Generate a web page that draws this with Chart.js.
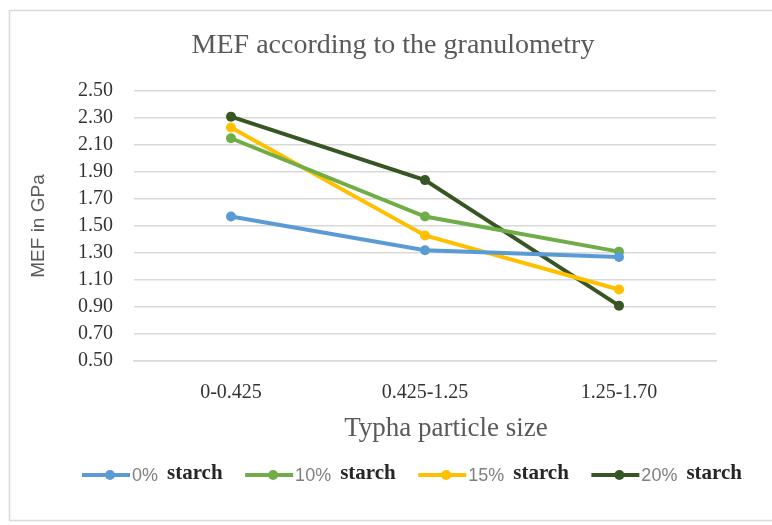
<!DOCTYPE html>
<html>
<head>
<meta charset="utf-8">
<script src="https://cdn.jsdelivr.net/npm/chart.js@4"></script>
<style>
  html, body { margin: 0; padding: 0; background: #fff; }
  #wrap { width: 772px; height: 525px; position: relative; }
</style>
</head>
<body>
<div id="wrap"><canvas id="mefChart"></canvas></div>
<script>
const CATEGORIES = ["0-0.425", "0.425-1.25", "1.25-1.70"];
const STARCH_0 = [1.57, 1.32, 1.27];
const STARCH_10 = [2.15, 1.57, 1.31];
const STARCH_15 = [2.23, 1.43, 1.03];
const STARCH_20 = [2.31, 1.84, 0.91];
const SERIES_NAMES = ["0%", "10%", "15%", "20%"];
const Y_TICKS = [0.5, 0.7, 0.9, 1.1, 1.3, 1.5, 1.7, 1.9, 2.1, 2.3, 2.5];
const CHART_TITLE = "MEF according to the granulometry";
const X_TITLE = "Typha particle size";
const Y_TITLE = "MEF in GPa";

const COLORS = ["#5b9bd5", "#70ad47", "#ffc000", "#375623"];
const SERIF = "'Liberation Serif', 'Times New Roman', serif";
const SANS = "'Liberation Sans', Arial, sans-serif";

function makeSet(name, values, color) {
  return {
    label: name + " starch",
    data: values,
    borderColor: color,
    backgroundColor: color,
    borderWidth: 4,
    pointRadius: 5,
    pointHoverRadius: 5,
    pointBorderWidth: 0,
    tension: 0
  };
}

// white background, light frame, chart title and x axis title
const decorPlugin = {
  id: "decor",
  beforeDraw(chart) {
    const ctx = chart.ctx;
    ctx.save();
    ctx.fillStyle = "#ffffff";
    ctx.fillRect(0, 0, chart.width, chart.height);
    ctx.strokeStyle = "#d9d9d9";
    ctx.lineWidth = 1.5;
    ctx.strokeRect(9.5, 10.5, chart.width + 20, 510);
    ctx.restore();
  },
  afterDraw(chart) {
    const ctx = chart.ctx;
    ctx.save();
    ctx.textAlign = "center";
    ctx.textBaseline = "middle";
    ctx.fillStyle = "#595959";
    ctx.font = "28px " + SERIF;
    ctx.fillText(CHART_TITLE, 393, 46);
    ctx.font = "27px " + SERIF;
    ctx.fillText(X_TITLE, 446, 429);
    ctx.restore();
  }
};

// legend: line with a dot, then "N%" in sans and "starch" in serif
const lineLegend = {
  id: "lineLegend",
  afterDraw(chart) {
    const ctx = chart.ctx;
    const y = 475;
    const lineLen = 48;
    const startX = 82, endX = 742;
    ctx.save();
    const items = chart.data.datasets.map((ds, i) => {
      ctx.font = "18px " + SANS;
      const w1 = ctx.measureText(SERIES_NAMES[i]).width;
      ctx.font = "bold 21px " + SERIF;
      const w2 = ctx.measureText("starch").width;
      return { color: ds.borderColor, pct: SERIES_NAMES[i], w1, w2, w: lineLen + 2 + w1 + 9 + w2 };
    });
    const sum = items.reduce((s, it) => s + it.w, 0);
    const gap = (endX - startX - sum) / (items.length - 1);
    let x = startX;
    items.forEach(it => {
      ctx.strokeStyle = it.color;
      ctx.lineWidth = 4;
      ctx.beginPath();
      ctx.moveTo(x, y);
      ctx.lineTo(x + lineLen, y);
      ctx.stroke();
      ctx.fillStyle = it.color;
      ctx.beginPath();
      ctx.arc(x + lineLen / 2 + 4, y, 5, 0, Math.PI * 2);
      ctx.fill();
      ctx.textBaseline = "middle";
      ctx.fillStyle = "#7f7f7f";
      ctx.font = "18px " + SANS;
      ctx.fillText(it.pct, x + lineLen + 2, y + 1);
      ctx.fillStyle = "#262626";
      ctx.font = "bold 21px " + SERIF;
      ctx.fillText("starch", x + lineLen + 2 + it.w1 + 9, y - 1);
      x += it.w + gap;
    });
    ctx.restore();
  }
};

new Chart(document.getElementById("mefChart"), {
  type: "line",
  data: {
    labels: CATEGORIES,
    datasets: [
      makeSet(SERIES_NAMES[0], STARCH_0, COLORS[0]),
      makeSet(SERIES_NAMES[1], STARCH_10, COLORS[1]),
      makeSet(SERIES_NAMES[2], STARCH_15, COLORS[2]),
      makeSet(SERIES_NAMES[3], STARCH_20, COLORS[3])
    ]
  },
  options: {
    responsive: true,
    maintainAspectRatio: false,
    animation: false,
    layout: { padding: { left: 10, right: 56, top: 91, bottom: 74 } },
    plugins: {
      legend: { display: false },
      tooltip: { enabled: false },
      title: { display: false }
    },
    scales: {
      x: {
        offset: true,
        grid: { display: false, drawTicks: false },
        border: { display: true, color: "#d9d9d9", width: 1.5 },
        ticks: { color: "#333333", font: { family: SERIF, size: 20 }, padding: 20, maxRotation: 0 },
        afterFit(scale) { scale.height = 90; }
      },
      y: {
        min: Y_TICKS[0],
        max: Y_TICKS[Y_TICKS.length - 1],
        afterBuildTicks(scale) { scale.ticks = Y_TICKS.map(v => ({ value: v })); },
        grid: { color: "#d9d9d9", lineWidth: 1.5, drawTicks: false },
        border: { display: false },
        ticks: {
          color: "#333333",
          font: { family: SERIF, size: 20 },
          padding: 21,
          callback: v => Number(v).toFixed(2)
        },
        title: {
          display: true,
          text: Y_TITLE,
          color: "#595959",
          font: { family: SANS, size: 19 },
          padding: { top: 17, bottom: 0 }
        },
        afterFit(scale) { scale.width = 124; }
      }
    }
  },
  plugins: [decorPlugin, lineLegend]
});
</script>
</body>
</html>
